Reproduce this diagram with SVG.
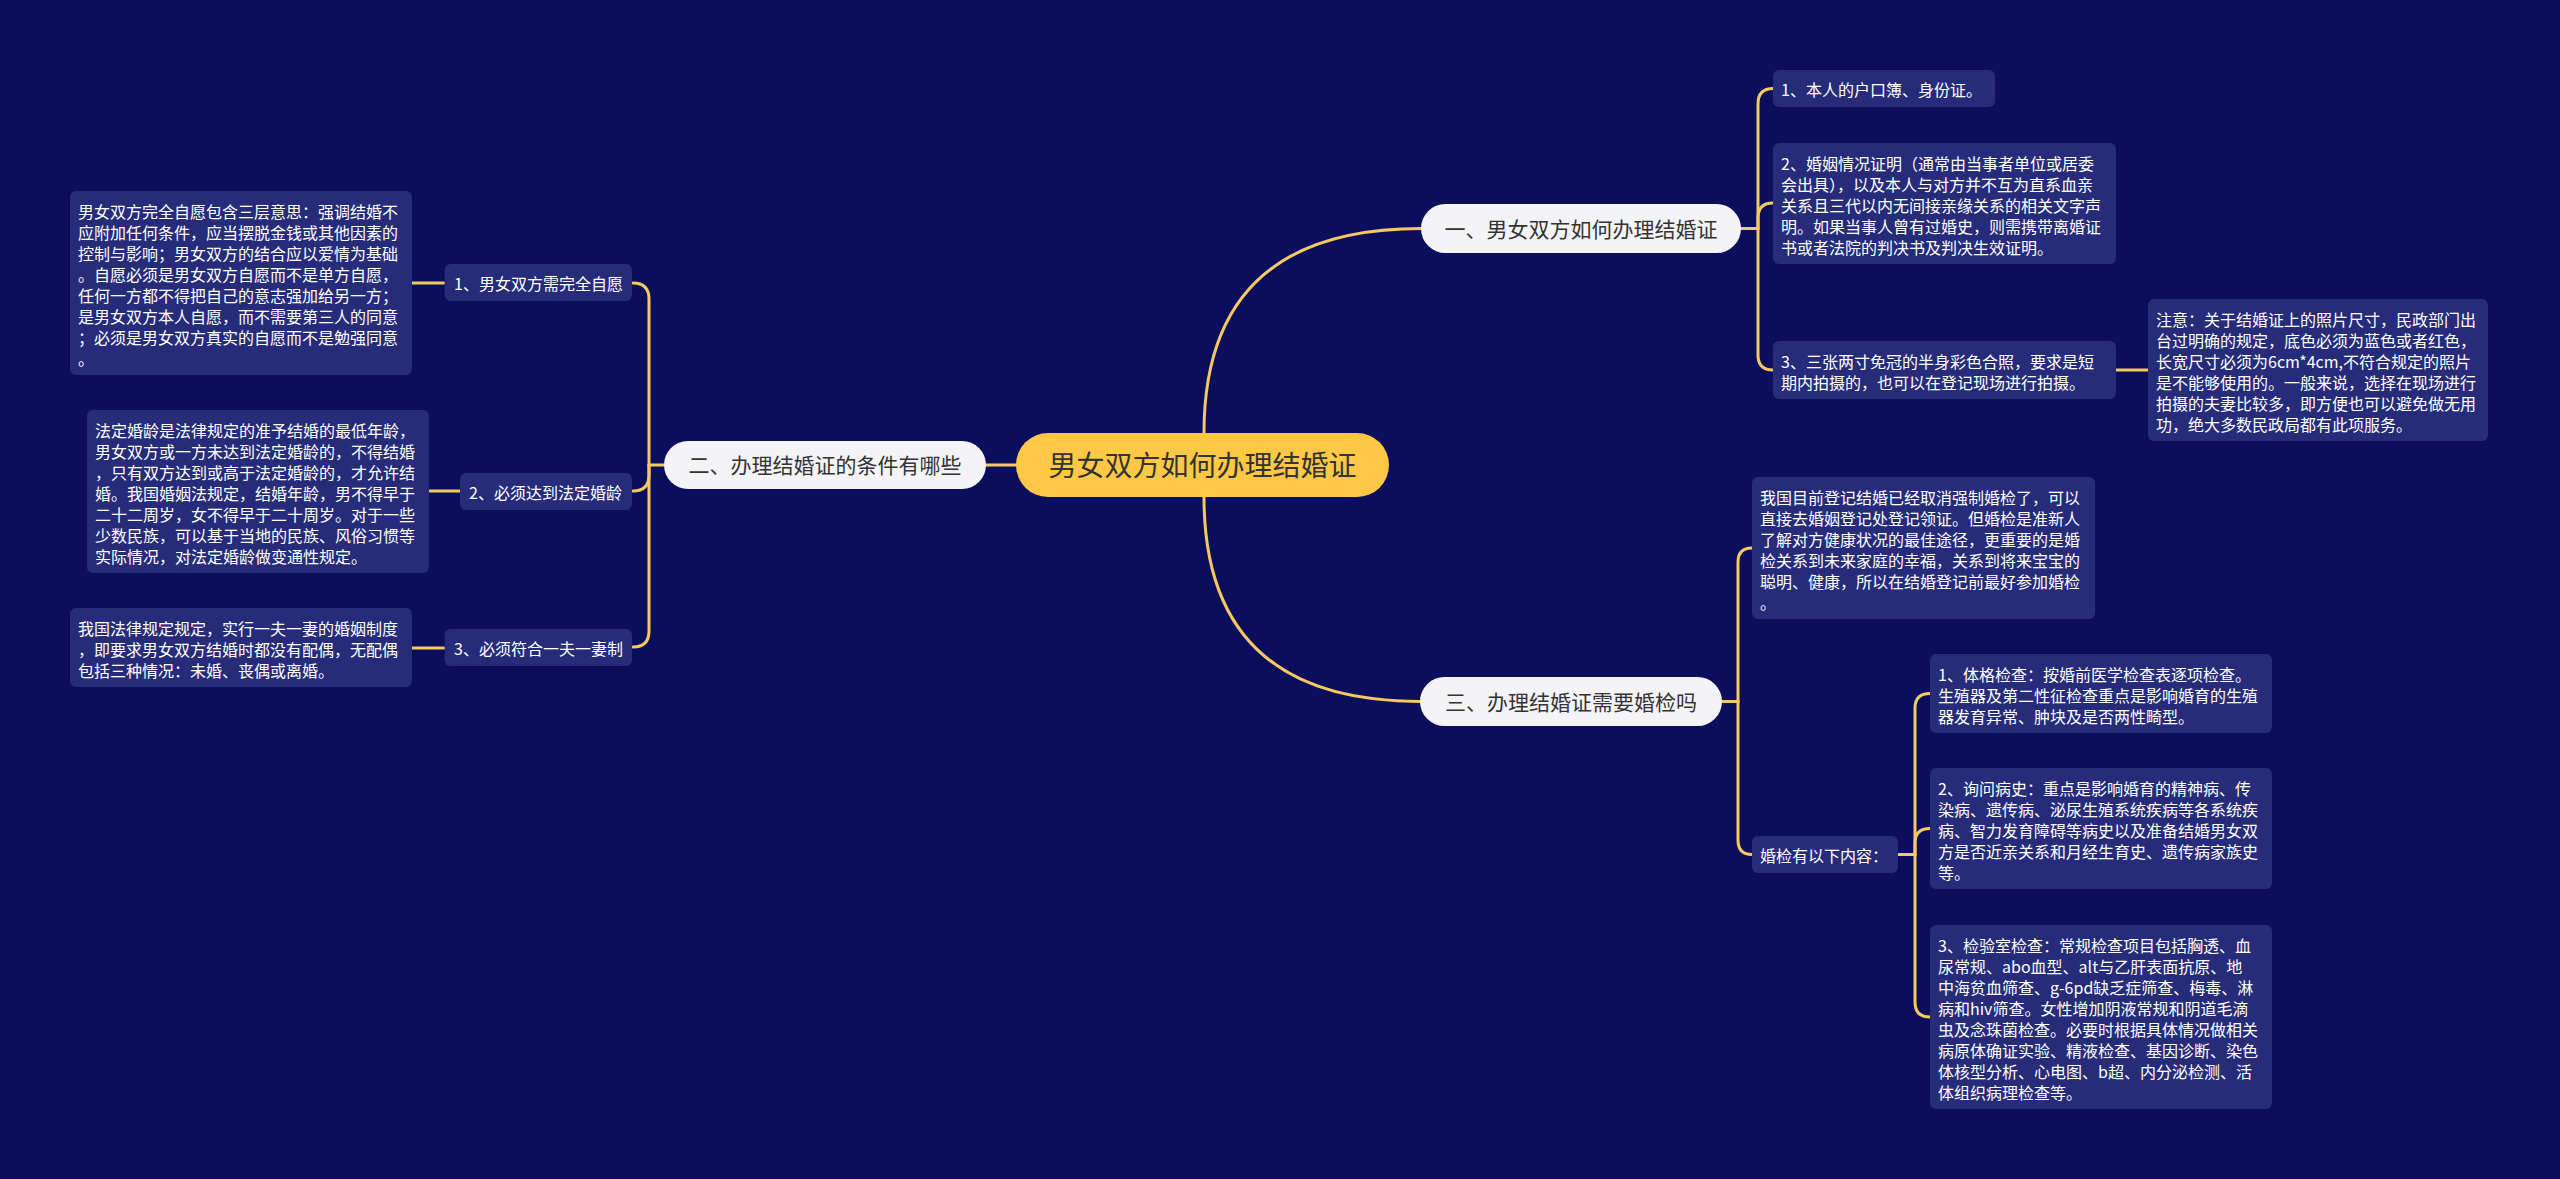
<svg xmlns="http://www.w3.org/2000/svg" width="2560" height="1179" viewBox="0 0 2560 1179">
<style>
.bg{fill:#0a0e5c}
.box{fill:#262c7a}
.pill{fill:#f4f4f6}
.root{fill:#fdc846}
.t{font-family:"Noto Sans CJK SC","Noto Sans",sans-serif;font-size:16px;fill:#ffffff}
.b{font-family:"Noto Sans CJK SC","Noto Sans",sans-serif;font-size:21px;fill:#333333;text-anchor:middle}
.r{font-family:"Noto Sans CJK SC","Noto Sans",sans-serif;font-size:28px;fill:#333333;text-anchor:middle}
.c{fill:none;stroke:#f5c862;stroke-width:3;stroke-linecap:round}
</style>
<rect class="bg" x="0" y="0" width="2560" height="1179"/>

<g id="connectors">
<path class="c" d="M1204,433 Q1204,228.5 1421,228.5"/>
<path class="c" d="M1204,497 Q1204,701.5 1420,701.5"/>
<path class="c" d="M1016,465 H986"/>
<path class="c" d="M664,465 H649"/>
<path class="c" d="M649,465 V299 Q649,283 633,283"/>
<path class="c" d="M649,465 V475 Q649,491 633,491"/>
<path class="c" d="M649,465 V631 Q649,647 633,647"/>
<path class="c" d="M412,283 H444"/>
<path class="c" d="M429,491 H460"/>
<path class="c" d="M412,648 H444"/>
<path class="c" d="M1741,228.5 H1758"/>
<path class="c" d="M1758,228.5 V104 Q1758,88.5 1773,88.5"/>
<path class="c" d="M1758,228.5 V218 Q1758,203 1773,203"/>
<path class="c" d="M1758,228.5 V355 Q1758,370 1773,370"/>
<path class="c" d="M2116,370 H2148"/>
<path class="c" d="M1722,701.5 H1738"/>
<path class="c" d="M1738,701.5 V562 Q1738,548 1752,548"/>
<path class="c" d="M1738,701.5 V840 Q1738,854.5 1752,854.5"/>
<path class="c" d="M1898,854.5 H1915"/>
<path class="c" d="M1915,854.5 V708 Q1915,693.5 1930,693.5"/>
<path class="c" d="M1915,854.5 V843 Q1915,828.5 1930,828.5"/>
<path class="c" d="M1915,854.5 V1002 Q1915,1017 1930,1017"/>
</g>

<g id="root">
<rect class="root" x="1016" y="433" width="373" height="64" rx="32"/>
<text class="r" x="1202.5" y="475.5">男女双方如何办理结婚证</text>
</g>

<g id="branch-2">
<rect class="pill" x="664" y="441" width="322" height="48" rx="24"/>
<text class="b" x="825" y="473">二、办理结婚证的条件有哪些</text>
</g>

<g id="branch-1">
<rect class="pill" x="1421" y="204" width="320" height="49" rx="24.5"/>
<text class="b" x="1581" y="236.5">一、男女双方如何办理结婚证</text>
</g>

<g id="branch-3">
<rect class="pill" x="1420" y="677" width="302" height="49" rx="24.5"/>
<text class="b" x="1571" y="709.5">三、办理结婚证需要婚检吗</text>
</g>

<g id="n2-1">
<rect class="box" x="444.6" y="264" width="187.4" height="37" rx="6"/>
<text class="t" x="454" y="290">1、男女双方需完全自愿</text>
</g>
<g id="n2-2">
<rect class="box" x="460" y="473" width="172" height="37" rx="6"/>
<text class="t" x="469" y="499">2、必须达到法定婚龄</text>
</g>
<g id="n2-3">
<rect class="box" x="444.6" y="629" width="187.4" height="37" rx="6"/>
<text class="t" x="454" y="655">3、必须符合一夫一妻制</text>
</g>

<g id="n2-1-d">
<rect class="box" x="70" y="191" width="342" height="184" rx="6"/>
<text class="t" x="78" y="218">男女双方完全自愿包含三层意思：强调结婚不</text>
<text class="t" x="78" y="239">应附加任何条件，应当摆脱金钱或其他因素的</text>
<text class="t" x="78" y="260">控制与影响；男女双方的结合应以爱情为基础</text>
<text class="t" x="78" y="281">。自愿必须是男女双方自愿而不是单方自愿，</text>
<text class="t" x="78" y="302">任何一方都不得把自己的意志强加给另一方；</text>
<text class="t" x="78" y="323">是男女双方本人自愿，而不需要第三人的同意</text>
<text class="t" x="78" y="344">；必须是男女双方真实的自愿而不是勉强同意</text>
<text class="t" x="78" y="365">。</text>
</g>

<g id="n2-2-d">
<rect class="box" x="87" y="410" width="342" height="163" rx="6"/>
<text class="t" x="95" y="437">法定婚龄是法律规定的准予结婚的最低年龄，</text>
<text class="t" x="95" y="458">男女双方或一方未达到法定婚龄的，不得结婚</text>
<text class="t" x="95" y="479">，只有双方达到或高于法定婚龄的，才允许结</text>
<text class="t" x="95" y="500">婚。我国婚姻法规定，结婚年龄，男不得早于</text>
<text class="t" x="95" y="521">二十二周岁，女不得早于二十周岁。对于一些</text>
<text class="t" x="95" y="542">少数民族，可以基于当地的民族、风俗习惯等</text>
<text class="t" x="95" y="563">实际情况，对法定婚龄做变通性规定。</text>
</g>

<g id="n2-3-d">
<rect class="box" x="70" y="608" width="342" height="79" rx="6"/>
<text class="t" x="78" y="635">我国法律规定规定，实行一夫一妻的婚姻制度</text>
<text class="t" x="78" y="656">，即要求男女双方结婚时都没有配偶，无配偶</text>
<text class="t" x="78" y="677">包括三种情况：未婚、丧偶或离婚。</text>
</g>

<g id="n1-1">
<rect class="box" x="1773" y="70" width="222" height="37" rx="6"/>
<text class="t" x="1781" y="96">1、本人的户口簿、身份证。</text>
</g>

<g id="n1-2">
<rect class="box" x="1773" y="143" width="343" height="121" rx="6"/>
<text class="t" x="1781" y="170">2、婚姻情况证明（通常由当事者单位或居委</text>
<text class="t" x="1781" y="191">会出具），以及本人与对方并不互为直系血亲</text>
<text class="t" x="1781" y="212">关系且三代以内无间接亲缘关系的相关文字声</text>
<text class="t" x="1781" y="233">明。如果当事人曾有过婚史，则需携带离婚证</text>
<text class="t" x="1781" y="254">书或者法院的判决书及判决生效证明。</text>
</g>

<g id="n1-3">
<rect class="box" x="1773" y="341" width="343" height="58" rx="6"/>
<text class="t" x="1781" y="368">3、三张两寸免冠的半身彩色合照，要求是短</text>
<text class="t" x="1781" y="389">期内拍摄的，也可以在登记现场进行拍摄。</text>
</g>

<g id="n1-3-note">
<rect class="box" x="2148" y="299" width="340" height="142" rx="6"/>
<text class="t" x="2156" y="326">注意：关于结婚证上的照片尺寸，民政部门出</text>
<text class="t" x="2156" y="347">台过明确的规定，底色必须为蓝色或者红色，</text>
<text class="t" x="2156" y="368">长宽尺寸必须为6cm*4cm,不符合规定的照片</text>
<text class="t" x="2156" y="389">是不能够使用的。一般来说，选择在现场进行</text>
<text class="t" x="2156" y="410">拍摄的夫妻比较多，即方便也可以避免做无用</text>
<text class="t" x="2156" y="431">功，绝大多数民政局都有此项服务。</text>
</g>

<g id="n3-1">
<rect class="box" x="1752" y="477" width="343" height="142" rx="6"/>
<text class="t" x="1760" y="504">我国目前登记结婚已经取消强制婚检了，可以</text>
<text class="t" x="1760" y="525">直接去婚姻登记处登记领证。但婚检是准新人</text>
<text class="t" x="1760" y="546">了解对方健康状况的最佳途径，更重要的是婚</text>
<text class="t" x="1760" y="567">检关系到未来家庭的幸福，关系到将来宝宝的</text>
<text class="t" x="1760" y="588">聪明、健康，所以在结婚登记前最好参加婚检</text>
<text class="t" x="1760" y="609">。</text>
</g>

<g id="n3-2">
<rect class="box" x="1752" y="836" width="146" height="37" rx="6"/>
<text class="t" x="1760" y="862">婚检有以下内容：</text>
</g>

<g id="n3-2-1">
<rect class="box" x="1930" y="654" width="342" height="79" rx="6"/>
<text class="t" x="1938" y="681">1、体格检查：按婚前医学检查表逐项检查。</text>
<text class="t" x="1938" y="702">生殖器及第二性征检查重点是影响婚育的生殖</text>
<text class="t" x="1938" y="723">器发育异常、肿块及是否两性畸型。</text>
</g>

<g id="n3-2-2">
<rect class="box" x="1930" y="768" width="342" height="121" rx="6"/>
<text class="t" x="1938" y="795">2、询问病史：重点是影响婚育的精神病、传</text>
<text class="t" x="1938" y="816">染病、遗传病、泌尿生殖系统疾病等各系统疾</text>
<text class="t" x="1938" y="837">病、智力发育障碍等病史以及准备结婚男女双</text>
<text class="t" x="1938" y="858">方是否近亲关系和月经生育史、遗传病家族史</text>
<text class="t" x="1938" y="879">等。</text>
</g>

<g id="n3-2-3">
<rect class="box" x="1930" y="925" width="342" height="184" rx="6"/>
<text class="t" x="1938" y="952">3、检验室检查：常规检查项目包括胸透、血</text>
<text class="t" x="1938" y="973">尿常规、abo血型、alt与乙肝表面抗原、地</text>
<text class="t" x="1938" y="994">中海贫血筛查、g-6pd缺乏症筛查、梅毒、淋</text>
<text class="t" x="1938" y="1015">病和hiv筛查。女性增加阴液常规和阴道毛滴</text>
<text class="t" x="1938" y="1036">虫及念珠菌检查。必要时根据具体情况做相关</text>
<text class="t" x="1938" y="1057">病原体确证实验、精液检查、基因诊断、染色</text>
<text class="t" x="1938" y="1078">体核型分析、心电图、b超、内分泌检测、活</text>
<text class="t" x="1938" y="1099">体组织病理检查等。</text>
</g>
</svg>
